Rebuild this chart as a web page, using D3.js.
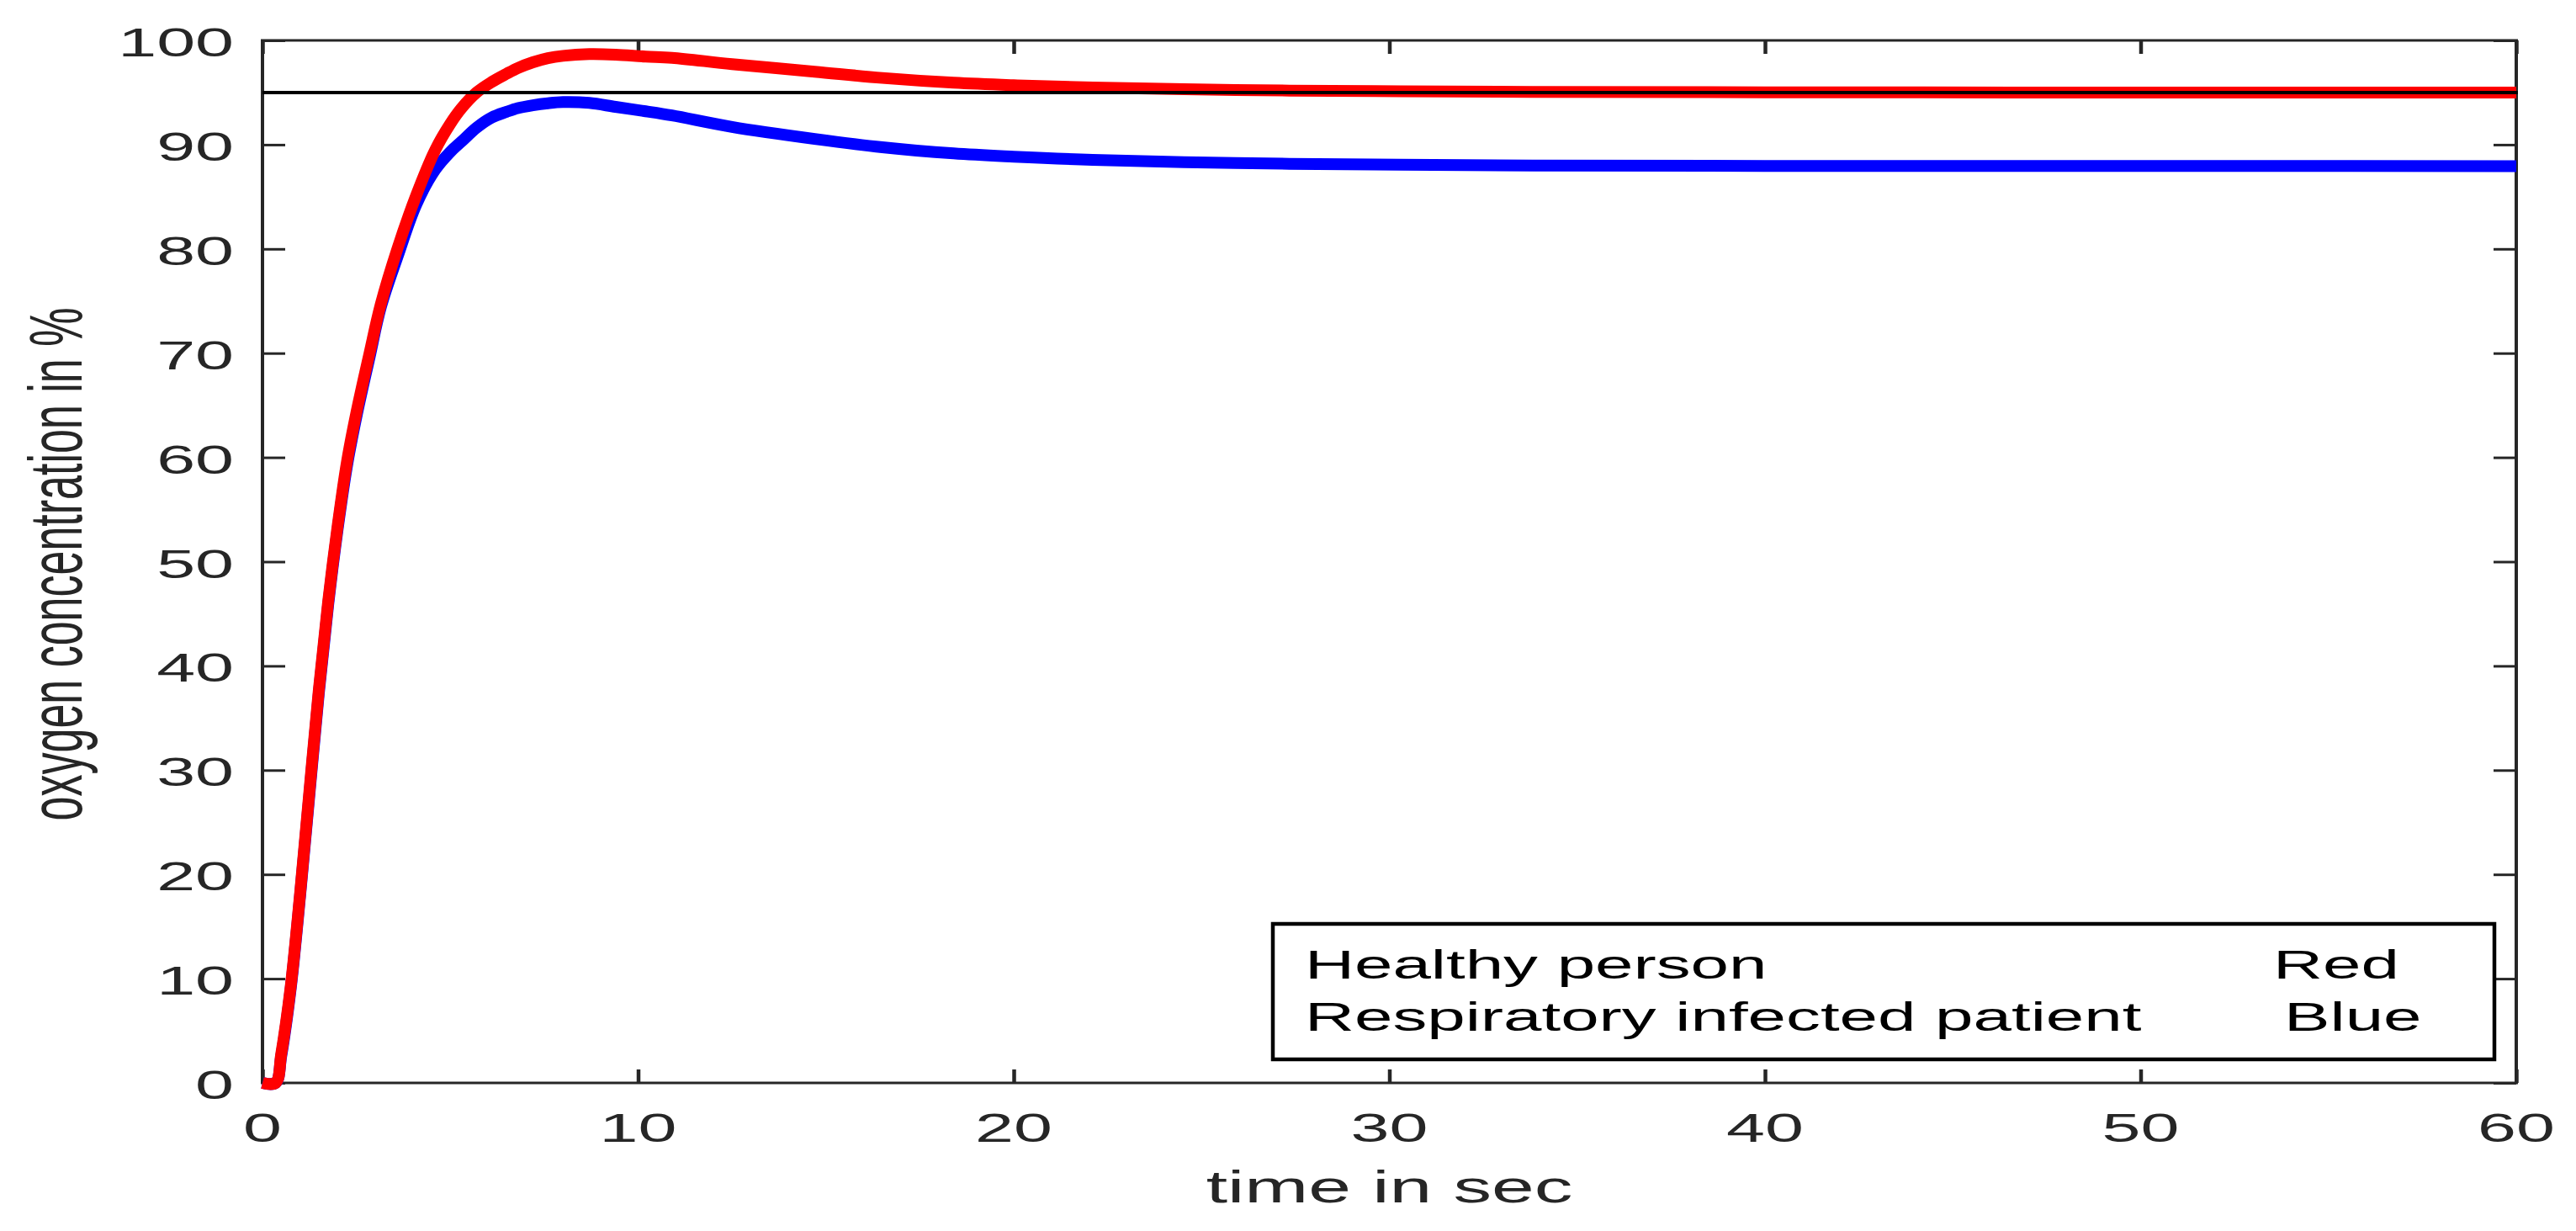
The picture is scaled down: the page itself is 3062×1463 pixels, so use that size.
<!DOCTYPE html>
<html>
<head>
<meta charset="utf-8">
<script src="https://cdn.jsdelivr.net/npm/d3@7"></script>
<style>
  body { margin: 0; background: #fff; }
  text { font-family: "Liberation Sans", Arial, Helvetica, sans-serif; }
</style>
</head>
<body>
<div id="chart"></div>
<script>
// values
let time = [0, 0.35, 0.5, 0.75, 1.0, 1.25, 1.5, 1.75, 2.0, 2.25, 2.5, 2.85, 3.15, 3.6, 4.1, 4.6,
  5.0, 5.3, 5.7, 6.1, 6.5, 6.8, 7.2, 7.6, 8.0, 8.7, 9.4, 10.2, 10.9, 12.5, 14.7, 16.5, 18.4,
  20, 22.1, 25.9, 29.6, 33.8, 40, 50, 60];

let healthy = [0, 0, 2.8, 9.2, 18.1, 28, 37.7, 46.2, 53.4, 59.6, 64.3, 70, 74.7, 80.1, 85.2, 89.5,
  92.0, 93.5, 95.0, 96.0, 96.8, 97.35, 97.9, 98.3, 98.52, 98.68, 98.63, 98.45, 98.33, 97.72, 97.0, 96.4, 95.94,
  95.7, 95.48, 95.24, 95.13, 95.05, 95.02, 95.0, 95.0];

let infected = [0, 0, 2.6, 9.0, 17.9, 27.7, 37.4, 45.9, 53.1, 59.2, 63.9, 69.6, 74.4, 79.3, 84.3, 87.6,
  89.3, 90.3, 91.63, 92.6, 93.15, 93.5, 93.78, 93.97, 94.08, 94.0, 93.62, 93.2, 92.8, 91.7, 90.55, 89.75, 89.16,
  88.85, 88.54, 88.23, 88.09, 88.0, 87.96, 87.95, 87.94];

let reference_level = 95;

let xTicks = [0, 10, 20, 30, 40, 50, 60];
let yTicks = [0, 10, 20, 30, 40, 50, 60, 70, 80, 90, 100];

let legend_rows = [
  { name: "Healthy person", colour: "Red" },
  { name: "Respiratory infected patient", colour: "Blue" }
];

let width = 3062, height = 1463;
let axisColor = "#262626";
// the original figure was stretched sideways, text too
let SX = 1.72;

let svg = d3.select("#chart").append("svg")
  .attr("width", width)
  .attr("height", height)
  .style("display", "block");

let x = d3.scaleLinear().domain([0, 60]).range([312, 2991]);
let y = d3.scaleLinear().domain([0, 100]).range([1287, 48]);

function wideText(parent, px, py, str, size, anchor, color) {
  return parent.append("g")
    .attr("transform", "translate(" + px + "," + py + ") scale(" + SX + ",1)")
    .append("text")
    .attr("text-anchor", anchor)
    .attr("font-size", size)
    .attr("fill", color)
    .text(str);
}

// ticks, mirrored on all four sides and pointing in
function styleTicks(g, w) {
  g.select(".domain").remove();
  g.selectAll(".tick line").attr("stroke", axisColor).attr("stroke-width", w);
  g.selectAll(".tick text").remove();
}

svg.append("g").attr("transform", "translate(0," + y(0) + ")")
  .call(d3.axisBottom(x).tickValues(xTicks).tickSize(-16).tickFormat(""))
  .call(styleTicks, 4.5);
svg.append("g").attr("transform", "translate(0," + y(100) + ")")
  .call(d3.axisTop(x).tickValues(xTicks).tickSize(-16).tickFormat(""))
  .call(styleTicks, 4.5);
svg.append("g").attr("transform", "translate(" + x(0) + ",0)")
  .call(d3.axisLeft(y).tickValues(yTicks).tickSize(-27).tickFormat(""))
  .call(styleTicks, 3);
svg.append("g").attr("transform", "translate(" + x(60) + ",0)")
  .call(d3.axisRight(y).tickValues(yTicks).tickSize(-27).tickFormat(""))
  .call(styleTicks, 3);

// axes box
let box = svg.append("g").attr("stroke", axisColor);
box.append("line").attr("x1", x(0) - 2).attr("x2", x(60) + 2).attr("y1", y(0)).attr("y2", y(0)).attr("stroke-width", 3);
box.append("line").attr("x1", x(0) - 2).attr("x2", x(60) + 2).attr("y1", y(100)).attr("y2", y(100)).attr("stroke-width", 3);
box.append("line").attr("x1", x(0)).attr("x2", x(0)).attr("y1", y(100)).attr("y2", y(0)).attr("stroke-width", 4);
box.append("line").attr("x1", x(60)).attr("x2", x(60)).attr("y1", y(100)).attr("y2", y(0)).attr("stroke-width", 4);

// tick labels
yTicks.forEach(function(v) {
  wideText(svg, 278, y(v) + 19, v, 48, "end", axisColor);
});
xTicks.forEach(function(v) {
  wideText(svg, x(v), 1357, v, 48, "middle", axisColor);
});

// axis titles
wideText(svg, (x(0) + x(60)) / 2, 1429, "time in sec", 53, "middle", axisColor);
svg.append("text")
  .attr("transform", "translate(97," + ((y(0) + y(100)) / 2 + 3) + ") scale(" + SX + ",1) rotate(-90)")
  .attr("text-anchor", "middle")
  .attr("font-size", 52)
  .attr("fill", axisColor)
  .text("oxygen concentration in %");

// curves
let line = d3.line()
  .x(function(d) { return x(d[0]); })
  .y(function(d) { return y(d[1]); })
  .curve(d3.curveCatmullRom.alpha(0.5));

svg.append("path")
  .datum(time.map(function(t, i) { return [t, infected[i]]; }))
  .attr("d", line)
  .attr("fill", "none")
  .attr("stroke", "#0000ff")
  .attr("stroke-width", 14)
  .attr("stroke-linejoin", "round");

svg.append("path")
  .datum(time.map(function(t, i) { return [t, healthy[i]]; }))
  .attr("d", line)
  .attr("fill", "none")
  .attr("stroke", "#ff0000")
  .attr("stroke-width", 14)
  .attr("stroke-linejoin", "round");

// normal level
svg.append("line")
  .attr("x1", x(0)).attr("x2", x(60) + 2)
  .attr("y1", y(reference_level)).attr("y2", y(reference_level))
  .attr("stroke", "#000")
  .attr("stroke-width", 4);

// legend box
let legend = svg.append("g");
legend.append("rect")
  .attr("x", 1513).attr("y", 1098)
  .attr("width", 1452).attr("height", 161)
  .attr("fill", "#fff")
  .attr("stroke", "#000")
  .attr("stroke-width", 4.5);

legend_rows.forEach(function(r, i) {
  wideText(legend, 1551, 1163 + i * 62, r.name, 47.5, "start", "#000");
  wideText(legend, i === 0 ? 2702 : 2715, 1163 + i * 62, r.colour, 47.5, "start", "#000");
});
</script>
</body>
</html>
